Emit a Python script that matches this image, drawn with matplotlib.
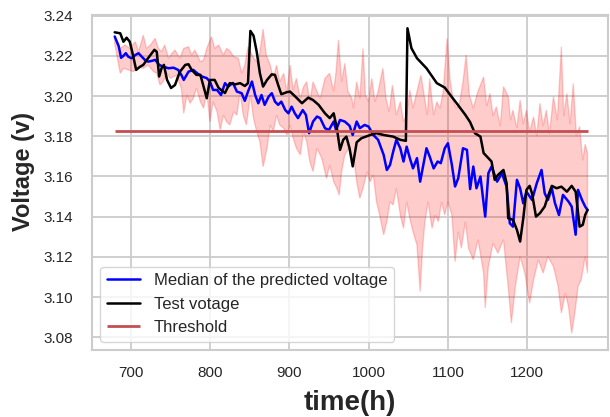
import matplotlib
matplotlib.use("Agg")
import matplotlib.pyplot as plt
import seaborn as sns
import numpy as np

# median of the predicted voltage
t_med = [680, 685, 688, 691, 694, 697, 701, 706, 710, 714, 718, 722, 727, 731, 736, 741,
         748, 754, 760, 764, 767, 773, 779, 784, 790, 796, 800, 804, 809, 814, 819, 823,
         829, 834, 840, 844, 848, 853, 857, 861, 865, 869, 874, 878, 882, 886, 890, 895,
         899, 903, 907, 911, 917, 921, 925, 930, 935, 939, 945, 950, 956, 959, 964, 970,
         976, 980, 985, 989, 995, 1000, 1006, 1012, 1019, 1023, 1027, 1031, 1035, 1040,
         1044, 1048, 1052, 1056, 1061, 1065, 1069, 1073, 1077, 1082, 1087, 1091, 1096,
         1100, 1105, 1109, 1113, 1119, 1124, 1128, 1132, 1136, 1141, 1147, 1151, 1155,
         1162, 1168, 1174, 1178, 1182, 1187, 1191, 1195, 1199, 1206, 1212, 1218, 1222,
         1226, 1231, 1235, 1240, 1245, 1252, 1256, 1261, 1264, 1269, 1273, 1276]
v_med = [3.2296, 3.2248, 3.2190, 3.2200, 3.2213, 3.2196, 3.2188, 3.2204, 3.2213, 3.2196,
         3.2180, 3.2171, 3.2175, 3.2180, 3.2155, 3.2146, 3.2138, 3.2141, 3.2130, 3.2105,
         3.2080, 3.2121, 3.2130, 3.2113, 3.2097, 3.2089, 3.2072, 3.2030, 3.2030, 3.2005,
         3.2064, 3.2047, 3.2065, 3.2022, 3.2014, 3.1976, 3.2022, 3.2072, 3.2005, 3.1964,
         3.2005, 3.1956, 3.1997, 3.2014, 3.1972, 3.1956, 3.1972, 3.1930, 3.1914, 3.1947,
         3.1914, 3.1890, 3.1930, 3.1906, 3.1815, 3.1873, 3.1898, 3.1890, 3.1840, 3.1831,
         3.1873, 3.1831, 3.1881, 3.1873, 3.1852, 3.1806, 3.1873, 3.1840, 3.1856, 3.1848,
         3.1806, 3.1782, 3.1707, 3.1632, 3.1657, 3.1723, 3.1782, 3.1740, 3.1674, 3.1748,
         3.1691, 3.1640, 3.1691, 3.1574, 3.1657, 3.1740, 3.1699, 3.1640, 3.1674, 3.1666,
         3.1740, 3.1765, 3.1657, 3.1550, 3.1591, 3.1740, 3.1732, 3.1537, 3.1649, 3.1541,
         3.1599, 3.1400, 3.1616, 3.1649, 3.1574, 3.1616, 3.1549, 3.1367, 3.1350, 3.1583,
         3.1541, 3.1466, 3.1524, 3.1483, 3.1566, 3.1632, 3.1516, 3.1483, 3.1541, 3.1466,
         3.1408, 3.1508, 3.1475, 3.1450, 3.1310, 3.1533, 3.1483, 3.1450, 3.1433]

# measured test voltage
t_test = [680, 687, 691, 695, 699, 703, 707, 712, 716, 722, 730, 733, 736, 739, 742, 746,
          751, 756, 762, 769, 773, 777, 783, 788, 792, 796, 800, 806, 811, 819, 825, 832,
          838, 844, 848, 851, 855, 859, 863, 867, 872, 878, 882, 886, 890, 897, 901, 909,
          916, 924, 930, 937, 945, 951, 956, 960, 964, 968, 972, 976, 980, 985, 991, 1002,
          1010, 1019, 1031, 1040, 1047, 1049, 1054, 1061, 1073, 1086, 1096, 1103, 1111,
          1122, 1128, 1134, 1141, 1145, 1151, 1155, 1159, 1163, 1170, 1174, 1176, 1182,
          1187, 1191, 1195, 1199, 1203, 1206, 1211, 1216, 1222, 1226, 1231, 1237, 1243,
          1250, 1256, 1261, 1266, 1270, 1273, 1276]
v_test = [3.2317, 3.2312, 3.2270, 3.2290, 3.2270, 3.2204, 3.2130, 3.2146, 3.2155, 3.2188,
          3.2230, 3.2220, 3.2097, 3.2138, 3.2155, 3.2080, 3.2040, 3.2055, 3.2120, 3.2155,
          3.2158, 3.2130, 3.2105, 3.2105, 3.2047, 3.1989, 3.2080, 3.2080, 3.2040, 3.2015,
          3.2064, 3.2058, 3.2064, 3.2050, 3.2064, 3.2324, 3.2300, 3.2220, 3.2113, 3.2047,
          3.2080, 3.2108, 3.2105, 3.2055, 3.2009, 3.2019, 3.2022, 3.1992, 3.1964, 3.1992,
          3.1980, 3.1956, 3.1914, 3.1890, 3.1914, 3.1840, 3.1732, 3.1782, 3.1798, 3.1740,
          3.1650, 3.1770, 3.1790, 3.1806, 3.1815, 3.1806, 3.1798, 3.1782, 3.1777, 3.2337,
          3.2238, 3.2188, 3.2138, 3.2064, 3.2042, 3.2005, 3.1964, 3.1906, 3.1870, 3.1815,
          3.1798, 3.1716, 3.1691, 3.1674, 3.1583, 3.1607, 3.1632, 3.1566, 3.1392, 3.1384,
          3.1334, 3.1276, 3.1392, 3.1533, 3.1553, 3.1516, 3.1400, 3.1417, 3.1450, 3.1500,
          3.1553, 3.1541, 3.1549, 3.1524, 3.1553, 3.1524, 3.1350, 3.1359, 3.1408, 3.1433]

# spread of the predictions (upper / lower envelope)
t_up = [680, 687, 693, 699, 706, 710, 716, 720, 725, 731, 735, 739, 743, 748, 752, 756,
        762, 767, 773, 777, 781, 788, 792, 796, 802, 806, 811, 817, 821, 825, 830, 836,
        840, 844, 848, 855, 861, 867, 871, 876, 880, 884, 888, 893, 897, 901, 905, 909,
        914, 918, 922, 926, 930, 935, 939, 945, 951, 956, 959, 962, 966, 970, 974, 979,
        981, 985, 989, 993, 996, 1000, 1004, 1008, 1012, 1018, 1022, 1026, 1030, 1035,
        1040, 1044, 1048, 1052, 1056, 1061, 1066, 1070, 1074, 1077, 1082, 1086, 1090,
        1094, 1099, 1103, 1107, 1111, 1115, 1119, 1123, 1127, 1132, 1137, 1145, 1149,
        1153, 1157, 1161, 1166, 1170, 1176, 1179, 1182, 1187, 1191, 1195, 1199, 1203,
        1208, 1212, 1216, 1220, 1224, 1228, 1233, 1238, 1243, 1246, 1250, 1254, 1258,
        1262, 1266, 1270, 1273, 1276]
v_up = [3.2296, 3.2237, 3.2254, 3.2237, 3.2270, 3.2220, 3.2303, 3.2237, 3.2254, 3.2287,
        3.2237, 3.2220, 3.2254, 3.2187, 3.2212, 3.2229, 3.2187, 3.2237, 3.2245, 3.2204,
        3.2229, 3.2170, 3.2179, 3.2237, 3.2295, 3.2237, 3.2254, 3.2204, 3.2237, 3.2225,
        3.2196, 3.2187, 3.2113, 3.2154, 3.2245, 3.2190, 3.2163, 3.2333, 3.2204, 3.2154,
        3.2088, 3.2154, 3.2071, 3.2113, 3.2022, 3.2154, 3.2030, 3.2088, 3.1988, 3.2046,
        3.2071, 3.1972, 3.2071, 3.2022, 3.1988, 3.2088, 3.2113, 3.2022, 3.2121, 3.2279,
        3.2071, 3.2163, 3.2022, 3.1988, 3.1939, 3.2071, 3.1988, 3.2237, 3.2005, 3.1972,
        3.2088, 3.1972, 3.2022, 3.2138, 3.1988, 3.1922, 3.2055, 3.1905, 3.1972, 3.1872,
        3.1905, 3.2030, 3.1939, 3.2022, 3.2104, 3.2005, 3.1905, 3.2088, 3.1905, 3.1972,
        3.1939, 3.2022, 3.2287, 3.2071, 3.1972, 3.1939, 3.1972, 3.2071, 3.2204, 3.2005,
        3.1939, 3.2013, 3.2096, 3.1950, 3.2013, 3.1900, 3.1947, 3.1850, 3.2047, 3.1997,
        3.1880, 3.1930, 3.1840, 3.1980, 3.1860, 3.1930, 3.1820, 3.1897, 3.1800, 3.1964,
        3.1850, 3.1930, 3.1810, 3.1997, 3.1880, 3.2246, 3.1900, 3.2013, 3.1860, 3.2063,
        3.1800, 3.1848, 3.1680, 3.1760, 3.1715]
t_lo = [680, 687, 691, 697, 704, 710, 716, 722, 729, 733, 737, 741, 746, 750, 758, 764,
        767, 771, 775, 779, 783, 788, 792, 796, 800, 804, 809, 813, 817, 821, 825, 830,
        834, 838, 842, 846, 851, 855, 859, 863, 867, 872, 876, 880, 884, 888, 893, 897,
        901, 905, 909, 914, 918, 922, 926, 930, 935, 941, 947, 951, 956, 960, 963, 966,
        970, 975, 979, 981, 985, 989, 993, 998, 1002, 1006, 1010, 1014, 1019, 1023, 1027,
        1031, 1035, 1040, 1044, 1048, 1052, 1056, 1061, 1065, 1068, 1071, 1075, 1080,
        1084, 1088, 1092, 1096, 1100, 1105, 1109, 1113, 1117, 1122, 1126, 1132, 1138,
        1145, 1147, 1151, 1157, 1163, 1170, 1176, 1180, 1185, 1191, 1197, 1203, 1208,
        1214, 1220, 1226, 1233, 1239, 1243, 1248, 1252, 1256, 1260, 1264, 1268, 1273, 1276]
v_lo = [3.2260, 3.2113, 3.2138, 3.2130, 3.2121, 3.2146, 3.2138, 3.2154, 3.2121, 3.2113,
        3.2055, 3.2071, 3.2113, 3.2088, 3.2104, 3.2038, 3.1914, 3.2005, 3.1964, 3.1988,
        3.2038, 3.1972, 3.1939, 3.2022, 3.1872, 3.1972, 3.1922, 3.1831, 3.1905, 3.1872,
        3.1856, 3.1922, 3.1905, 3.2022, 3.1905, 3.1856, 3.2005, 3.1889, 3.1823, 3.1773,
        3.1648, 3.1740, 3.1856, 3.1823, 3.1905, 3.1856, 3.1839, 3.1806, 3.1856, 3.1790,
        3.1740, 3.1707, 3.1823, 3.1773, 3.1673, 3.1624, 3.1740, 3.1690, 3.1590, 3.1657,
        3.1574, 3.1541, 3.1507, 3.1624, 3.1707, 3.1740, 3.1690, 3.1707, 3.1574, 3.1491,
        3.1541, 3.1624, 3.1574, 3.1607, 3.1474, 3.1408, 3.1309, 3.1375, 3.1474, 3.1458,
        3.1541, 3.1408, 3.1342, 3.1474, 3.1391, 3.1325, 3.1259, 3.1027, 3.1242, 3.1375,
        3.1474, 3.1342, 3.1408, 3.1375, 3.1474, 3.1408, 3.1474, 3.1408, 3.1176, 3.1325,
        3.1242, 3.1375, 3.1242, 3.1185, 3.1285, 3.1119, 3.0945, 3.1152, 3.1268, 3.1218,
        3.1285, 3.1052, 3.0870, 3.1052, 3.1202, 3.1119, 3.0969, 3.1086, 3.1185, 3.1119,
        3.1202, 3.1152, 3.1052, 3.0920, 3.1019, 3.0953, 3.0820, 3.0920, 3.1052, 3.1086,
        3.1202, 3.1119]

threshold = 3.1825

sns.set_style("whitegrid")
plt.rcParams['font.family'] = ['Liberation Sans', 'DejaVu Sans']

fig = plt.figure(figsize=(6.1, 4.17), dpi=100)
ax = fig.add_axes([0.151, 0.161, 0.846, 0.803])

# prediction band as one polygon: upper edge then lower edge backwards
band_x = np.r_[t_up, t_lo[::-1]]
band_y = np.r_[v_up, v_lo[::-1]]
ax.fill(band_x, band_y, color='red', alpha=0.2, lw=1)

ax.plot(t_med, v_med, color='blue', lw=1.8, label='Median of the predicted voltage')
ax.plot(t_test, v_test, color='black', lw=1.8, label='Test votage')
ax.hlines(threshold, t_test[0], t_test[-1], color='#c44e52', lw=2, label='Threshold')

ax.set_xlim(651.5, 1302)
ax.set_ylim(3.0737, 3.2403)
ax.set_xticks([700, 800, 900, 1000, 1100, 1200])
ax.set_yticks([3.08, 3.10, 3.12, 3.14, 3.16, 3.18, 3.20, 3.22, 3.24])
ax.set_yticklabels([f'{v:.2f}' for v in ax.get_yticks()])
ax.tick_params(labelsize=11)
ax.tick_params(axis='x', pad=8)
ax.tick_params(axis='y', pad=10)
ax.grid(True, color='#cccccc', lw=1.3)
for sp in ax.spines.values():
    sp.set_color('#cccccc')
    sp.set_linewidth(1.5)

ax.set_xlabel('time(h)', fontsize=20, fontweight='bold', labelpad=7)
ax.set_ylabel('Voltage (v)', fontsize=17, fontweight='bold')
ax.yaxis.set_label_coords(-0.11, 0.534)

ax.legend(loc='lower left', fontsize=12, handlelength=2.0)

fig.savefig('out.png', dpi=100)
